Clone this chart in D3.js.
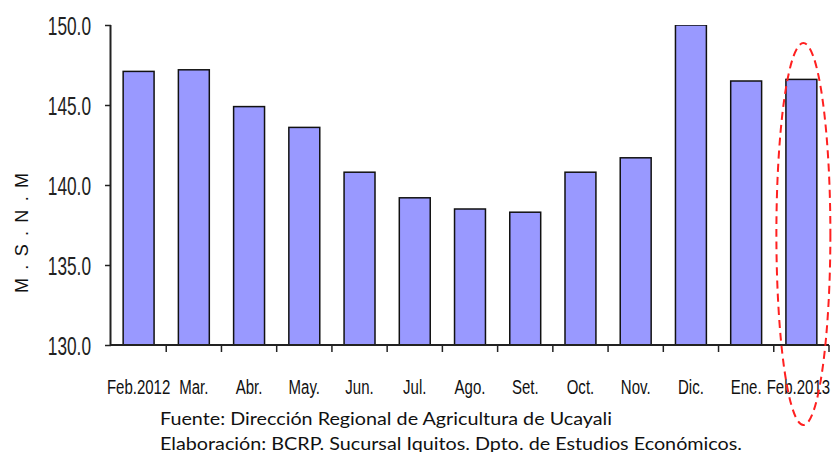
<!DOCTYPE html>
<html>
<head>
<meta charset="utf-8">
<script src="https://cdn.jsdelivr.net/npm/d3@7"></script>
<style>
  html, body { margin: 0; padding: 0; background: #fff; }
  svg { display: block; }
</style>
</head>
<body>
<div id="viz"></div>
<script>
  // months shown on the x axis
  var months = ["Feb.2012", "Mar.", "Abr.", "May.", "Jun.", "Jul.", "Ago.",
                "Set.", "Oct.", "Nov.", "Dic.", "Ene.", "Feb.2013"];
  // river level, metres above sea level
  var levels = [147.1, 147.2, 144.9, 143.6, 140.8, 139.2, 138.5,
                138.3, 140.8, 141.7, 150.0, 146.5, 146.6];
  var yTicks = [130, 135, 140, 145, 150];
  var yTitle = "M.S.N.M";
  var notes = ["Fuente: Dirección Regional de Agricultura de Ucayali",
               "Elaboración: BCRP. Sucursal Iquitos. Dpto. de Estudios Económicos."];

  var width = 839, height = 452;
  var margin = {top: 25, left: 111, bottom: 107};
  var plotRight = 829;
  var narrow = "'Liberation Sans', Arial, sans-serif";

  // squeeze text horizontally, like a condensed face
  function condense(sel, factor) {
    sel.each(function() {
      var w = this.getComputedTextLength();
      d3.select(this)
        .attr("textLength", w * factor)
        .attr("lengthAdjust", "spacingAndGlyphs");
    });
  }

  var svg = d3.select("#viz").append("svg")
      .attr("width", width)
      .attr("height", height);

  var x = d3.scaleBand()
      .domain(months)
      .range([margin.left, plotRight])
      .paddingInner(0.44)
      .paddingOuter(0.22);

  var y = d3.scaleLinear()
      .domain([130, 150])
      .range([height - margin.bottom, margin.top]);

  svg.append("clipPath").attr("id", "plotclip")
    .append("rect")
      .attr("x", margin.left)
      .attr("y", y(150))
      .attr("width", plotRight - margin.left)
      .attr("height", y(130) - y(150));

  // bars
  svg.append("g")
      .attr("clip-path", "url(#plotclip)")
    .selectAll("rect")
    .data(levels)
    .enter()
    .append("rect")
      .attr("x", function(d, i) { return x(months[i]); })
      .attr("y", function(d) { return y(d); })
      .attr("width", x.bandwidth())
      .attr("height", function(d) { return y(130) - y(d) + 2; })
      .style("fill", "#9999ff")
      .style("stroke", "#111")
      .style("stroke-width", 1.5);

  // y axis
  var yAxis = d3.axisLeft(y)
      .tickValues(yTicks)
      .tickSize(6)
      .tickPadding(14)
      .tickFormat(d3.format(".1f"));

  var gy = svg.append("g")
      .attr("transform", "translate(" + margin.left + ",0)")
      .call(yAxis);
  gy.select(".domain").attr("d", "M-0.5," + y(150) + "V" + y(130))
      .style("stroke", "#222").style("stroke-width", 2);
  gy.selectAll(".tick line").style("stroke", "#222").style("stroke-width", 1.5);
  gy.selectAll(".tick text")
      .attr("dy", "0.36em")
      .style("font-family", narrow)
      .style("font-size", "25px")
      .style("fill", "#222")
      .call(condense, 0.69);

  // x axis: ticks between the bars
  var step = x.step();
  var xBase = y(130);
  svg.append("line")
      .attr("x1", margin.left).attr("x2", plotRight)
      .attr("y1", xBase).attr("y2", xBase)
      .style("stroke", "#222").style("stroke-width", 2);

  svg.append("g")
    .selectAll("line")
    .data(months)
    .enter()
    .append("line")
      .attr("x1", function(d) { return x(d) + x.bandwidth() / 2 + step / 2; })
      .attr("x2", function(d) { return x(d) + x.bandwidth() / 2 + step / 2; })
      .attr("y1", xBase)
      .attr("y2", xBase + 7)
      .style("stroke", "#222")
      .style("stroke-width", 1.5);

  svg.append("g")
    .selectAll("text")
    .data(months)
    .enter()
    .append("text")
      .attr("x", function(d, i) { return x(d) + x.bandwidth() / 2 - (i === months.length - 1 ? 3 : 0); })
      .attr("y", 394)
      .attr("text-anchor", "middle")
      .style("font-family", narrow)
      .style("font-size", "19.5px")
      .style("fill", "#111")
      .text(function(d) { return d; })
      .call(condense, 0.77);

  // y title
  svg.append("text")
      .attr("transform", "translate(28,233) rotate(-90)")
      .attr("text-anchor", "middle")
      .attr("textLength", 120)
      .attr("lengthAdjust", "spacing")
      .style("font-family", narrow)
      .style("font-size", "18px")
      .style("fill", "#111")
      .text(yTitle);

  // source notes
  var noteWidths = [452, 582];
  svg.append("g")
    .selectAll("text")
    .data(notes)
    .enter()
    .append("text")
      .attr("x", 160)
      .attr("y", function(d, i) { return 425 + i * 25; })
      .attr("textLength", function(d, i) { return noteWidths[i]; })
      .attr("lengthAdjust", "spacingAndGlyphs")
      .style("font-family", "Lato, 'Open Sans', sans-serif")
      .style("font-size", "18px")
      .style("fill", "#111")
      .text(function(d) { return d; });

  // highlight on the last month
  var last = months[months.length - 1];
  svg.append("ellipse")
      .attr("cx", x(last) + x.bandwidth() / 2 + 2)
      .attr("cy", 234)
      .attr("rx", 27)
      .attr("ry", 191)
      .style("fill", "none")
      .style("stroke", "#ff2020")
      .style("stroke-width", 2)
      .style("stroke-dasharray", "8,5");
</script>
</body>
</html>
